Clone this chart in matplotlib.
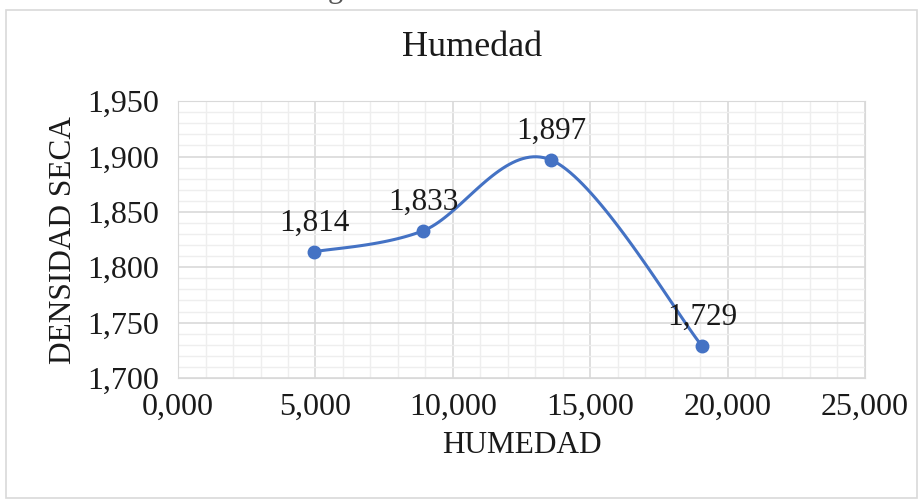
import numpy as np
import matplotlib
matplotlib.use("Agg")
import matplotlib.pyplot as plt
from matplotlib.ticker import MultipleLocator, FuncFormatter
from matplotlib.patches import Rectangle

# datos
humedad = [4.95, 8.92, 13.57, 19.07]
densidad = [1.814, 1.833, 1.897, 1.729]
etiquetas = ["1,814", "1,833", "1,897", "1,729"]

plt.rcParams['font.family'] = ['Liberation Serif', 'DejaVu Serif']

AZUL = "#4472C4"
TEXTO = "#1a1a1a"
xmin, xmax = 0, 25
ymin, ymax = 1.70, 1.95


def suavizar(xs, ys, n=40):
    # curva suavizada tipo Excel (Catmull-Rom en espacio normalizado)
    px = (np.array(xs) - xmin) / (xmax - xmin) * 687
    py = (np.array(ys) - ymin) / (ymax - ymin) * 277
    P = np.column_stack([px, py])
    P = np.vstack([P[0], P, P[-1]])
    out = []
    t = np.linspace(0, 1, n)[:, None]
    for i in range(1, len(P) - 2):
        p0, p1, p2, p3 = P[i - 1], P[i], P[i + 1], P[i + 2]
        c1 = p1 + (p2 - p0) / 6
        c2 = p2 - (p3 - p1) / 6
        seg = ((1 - t) ** 3) * p1 + 3 * ((1 - t) ** 2) * t * c1 + 3 * (1 - t) * t ** 2 * c2 + t ** 3 * p2
        out.append(seg)
    out = np.vstack(out)
    return out[:, 0] / 687 * (xmax - xmin) + xmin, out[:, 1] / 277 * (ymax - ymin) + ymin


fig = plt.figure(figsize=(9.23, 5.01), dpi=100)
ax = fig.add_axes([0.193, 0.2455, 0.744, 0.5525])

cx, cy = suavizar(humedad, densidad)
ax.plot(cx, cy, color=AZUL, lw=2.2, zorder=3)
ax.plot(humedad, densidad, "o", color=AZUL, ms=9, zorder=4)

for x, y, t in zip(humedad, densidad, etiquetas):
    ax.annotate(t, (x, y), xytext=(0, 10), textcoords="offset points",
                ha="center", va="bottom", fontsize=22.5, color=TEXTO, zorder=5)

ax.set_xlim(xmin, xmax)
ax.set_ylim(ymin, ymax)
ax.xaxis.set_major_locator(MultipleLocator(5))
ax.xaxis.set_minor_locator(MultipleLocator(1))
ax.yaxis.set_major_locator(MultipleLocator(0.05))
ax.yaxis.set_minor_locator(MultipleLocator(0.01))
ax.xaxis.set_major_formatter(FuncFormatter(lambda v, p: f"{v:.3f}".replace(".", ",")))
ax.yaxis.set_major_formatter(FuncFormatter(lambda v, p: f"{v:.3f}".replace(".", ",")))

ax.grid(which="major", color="#d9d9d9", lw=1.2)
ax.grid(which="minor", color="#eeeeee", lw=1.0)
ax.set_axisbelow(True)
for s in ax.spines.values():
    s.set_color("#d9d9d9")
ax.tick_params(which="both", length=0, labelsize=23, colors=TEXTO)
ax.tick_params(axis="x", pad=11)
ax.tick_params(axis="y", pad=14)

fig.text(472 / 923, 1 - 48 / 501, "Humedad", fontsize=26, color=TEXTO,
         ha="center", va="center")
ax.set_xlabel("HUMEDAD", fontsize=22.5, color=TEXTO, labelpad=6)
ax.set_ylabel("DENSIDAD SECA", fontsize=22.5, color=TEXTO, labelpad=6)

# resto de texto cortado arriba
fig.text(335 / 923, 1 + 3 / 501, "g", fontsize=22, color="#555555",
         ha="center", va="baseline")

# borde del área del gráfico
fig.patches.append(Rectangle((0.006, 0.006), 0.988, 0.975, transform=fig.transFigure,
                             fill=False, edgecolor="#d9d9d9", lw=1.2))

fig.savefig("out.png", dpi=100, facecolor="white")
